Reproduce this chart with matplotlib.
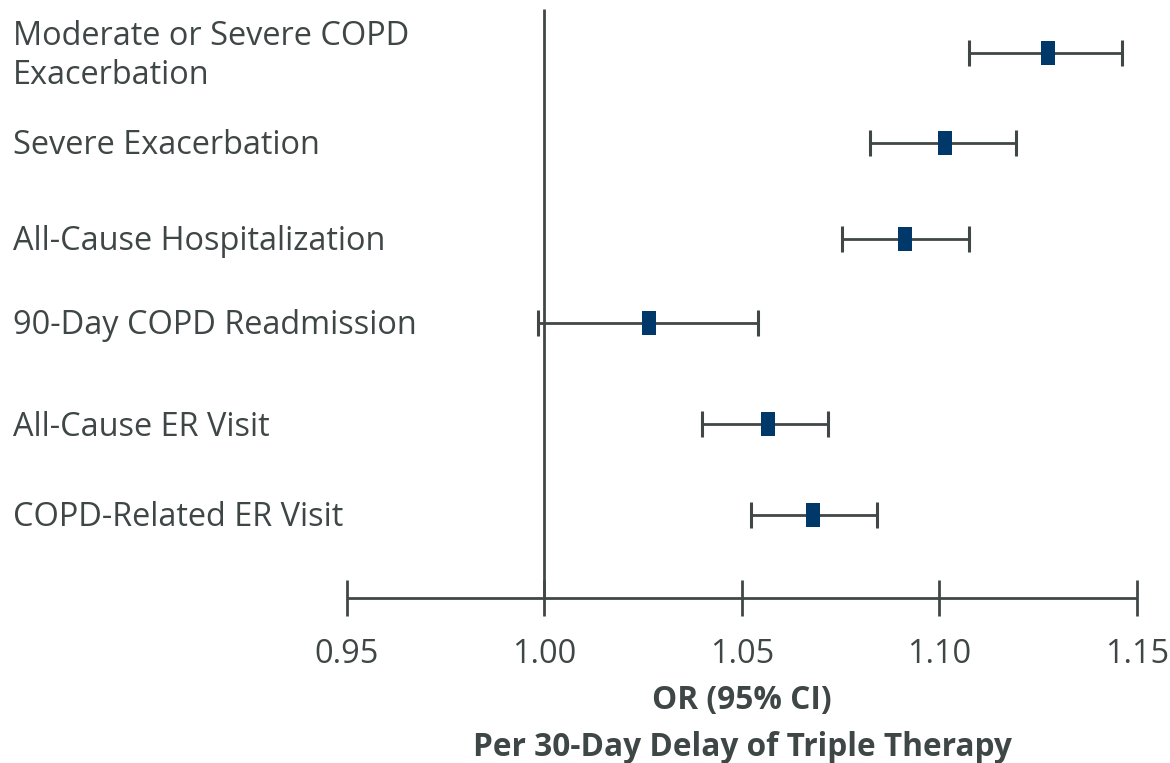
import matplotlib
matplotlib.use("Agg")
import matplotlib.pyplot as plt
import matplotlib.transforms as mtransforms

# odds ratios per 30-day delay of triple therapy
outcomes = ["Moderate or Severe COPD\nExacerbation", "Severe Exacerbation",
            "All-Cause Hospitalization", "90-Day COPD Readmission",
            "All-Cause ER Visit", "COPD-Related ER Visit"]
odds_ratio = [1.1275, 1.1015, 1.0914, 1.0264, 1.0565, 1.0681]
ci_low = [1.1074, 1.0824, 1.0754, 0.9983, 1.0399, 1.0523]
ci_high = [1.1463, 1.1193, 1.1074, 1.0541, 1.0719, 1.0843]
xticks = [0.95, 1.00, 1.05, 1.10, 1.15]
xtick_labels = ["0.95", "1.00", "1.05", "1.10", "1.15"]

# layout: row centres, measured down from the top of the plot area (px)
row_y = [53, 143, 239, 323, 424, 515]

NAVY = "#00386a"
GREY = "#414747"
TEXT = "#3f4646"
FONT = "Open Sans"

W, H = 1170, 763
fig = plt.figure(figsize=(W / 100, H / 100), dpi=100)
ax_left, ax_right, ax_bottom = 346.7, 1137.0, 598.3
ax = fig.add_axes([ax_left / W, (H - ax_bottom) / H, (ax_right - ax_left) / W, ax_bottom / H])
ax.set_xlim(0.95, 1.15)
ax.set_ylim(ax_bottom, 0)

# reference line at OR = 1
ax.vlines(1.0, 9, ax_bottom, color=GREY, lw=2, zorder=1)

err_lo = [o - l for o, l in zip(odds_ratio, ci_low)]
err_hi = [h - o for o, h in zip(odds_ratio, ci_high)]
rect = [(-0.29, -0.5), (0.29, -0.5), (0.29, 0.5), (-0.29, 0.5), (-0.29, -0.5)]
ax.errorbar(odds_ratio, row_y, xerr=[err_lo, err_hi], fmt="none",
            ecolor=GREY, elinewidth=2, capsize=9.7, capthick=2.2, zorder=2)
ax.plot(odds_ratio, row_y, ls="none", marker=rect, markersize=17.3,
        color=NAVY, markeredgewidth=0, zorder=3)

for sp in ["top", "right", "left"]:
    ax.spines[sp].set_visible(False)
ax.spines["bottom"].set_color(GREY)
ax.spines["bottom"].set_linewidth(2)
ax.spines["bottom"].set_capstyle("butt")
ax.set_yticks([])
ax.set_xticks(xticks)
ax.set_xticklabels(xtick_labels, fontfamily=FONT, fontsize=23.4, color=TEXT)
ax.tick_params(axis="x", direction="inout", length=26.6, width=2,
               color=GREY, pad=15.5)

# row labels sit at the left edge of the figure, nudged down a few px
shift = mtransforms.ScaledTranslation(0, -3 / 100, fig.dpi_scale_trans)
trans = mtransforms.blended_transform_factory(fig.transFigure, ax.transData) + shift
for label, y in zip(outcomes, row_y):
    ax.text(13 / W, y, label, transform=trans, ha="left", va="center",
            fontfamily=FONT, fontsize=23.4, color=TEXT, linespacing=1.22)

fig.text(742 / W, 1 - 700 / H, "OR (95% CI)", ha="center", va="center",
         fontfamily=FONT, fontsize=22.8, fontweight="bold", color=TEXT)
fig.text(742 / W, 1 - 748 / H, "Per 30-Day Delay of Triple Therapy", ha="center",
         va="center", fontfamily=FONT, fontsize=22.8, fontweight="bold", color=TEXT)

fig.savefig("out.png", dpi=100, facecolor="white")
